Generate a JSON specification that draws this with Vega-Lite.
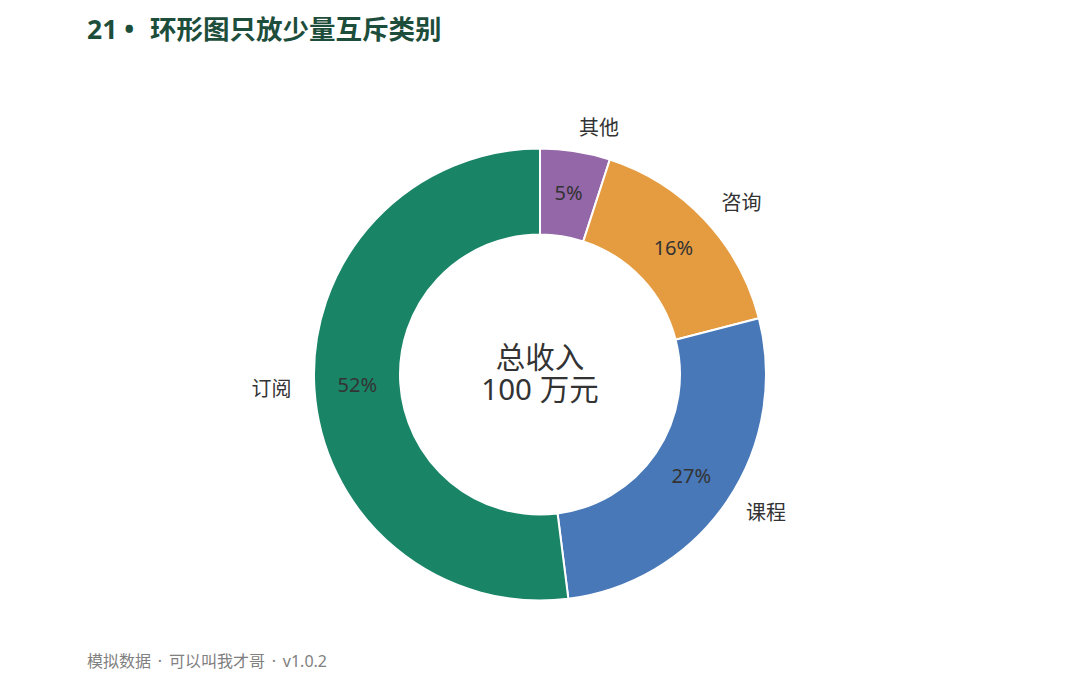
{
  "$schema": "https://vega.github.io/schema/vega-lite/v6.json",
  "width": 1080,
  "height": 601,
  "autosize": "none",
  "padding": {"top": 74, "left": 0, "right": 0, "bottom": 0},
  "background": "white",
  "title": {
    "text": "21 •\u2002\u200a环形图只放少量互斥类别",
    "anchor": "start",
    "frame": "group",
    "dx": 87,
    "offset": 30,
    "font": "Noto Sans, Noto Sans CJK SC",
    "fontSize": 26.5,
    "fontWeight": "bold",
    "color": "#1d4d3b"
  },
  "data": {
    "values": [
      {"category": "其他", "value": 5, "order": 1, "label": "5%"},
      {"category": "咨询", "value": 16, "order": 2, "label": "16%"},
      {"category": "课程", "value": 27, "order": 3, "label": "27%"},
      {"category": "订阅", "value": 52, "order": 4, "label": "52%"}
    ]
  },
  "encoding": {
    "theta": {"field": "value", "type": "quantitative", "stack": true},
    "order": {"field": "order", "type": "quantitative"}
  },
  "layer": [
    {
      "mark": {"type": "arc", "innerRadius": 140, "outerRadius": 226, "stroke": "white", "strokeWidth": 2},
      "encoding": {
        "color": {
          "field": "category",
          "type": "nominal",
          "legend": null,
          "scale": {
            "domain": ["其他", "咨询", "课程", "订阅"],
            "range": ["#9467a8", "#e59c41", "#4878b8", "#1a8467"]
          }
        }
      }
    },
    {
      "mark": {"type": "text", "radius": 183, "font": "Noto Sans, Noto Sans CJK SC", "fontSize": 20, "color": "#333333"},
      "encoding": {"text": {"field": "label", "type": "nominal"}}
    },
    {
      "mark": {
        "type": "text",
        "radius": 249,
        "align": {"expr": "datum.order == 4 ? 'right' : 'left'"},
        "font": "Noto Sans CJK SC",
        "fontSize": 20,
        "color": "#333333"
      },
      "encoding": {"text": {"field": "category", "type": "nominal"}}
    },
    {
      "data": {"values": [{"center": "总收入\n100 万元"}]},
      "mark": {"type": "text", "lineBreak": "\n", "lineHeight": 32, "dy": -16, "font": "Noto Sans, Noto Sans CJK SC", "fontSize": 29.5, "color": "#333333"},
      "encoding": {"text": {"field": "center", "type": "nominal"}, "theta": null, "order": null}
    },
    {
      "data": {"values": [{"note": "模拟数据 \u2009· \u2009可以叫我才哥 \u2009· \u2009v1.0.2"}]},
      "mark": {"type": "text", "x": 87, "y": 588, "align": "left", "baseline": "middle", "font": "Noto Sans, Noto Sans CJK SC", "fontSize": 16, "color": "#808080"},
      "encoding": {"text": {"field": "note", "type": "nominal"}, "theta": null, "order": null}
    }
  ]
}
